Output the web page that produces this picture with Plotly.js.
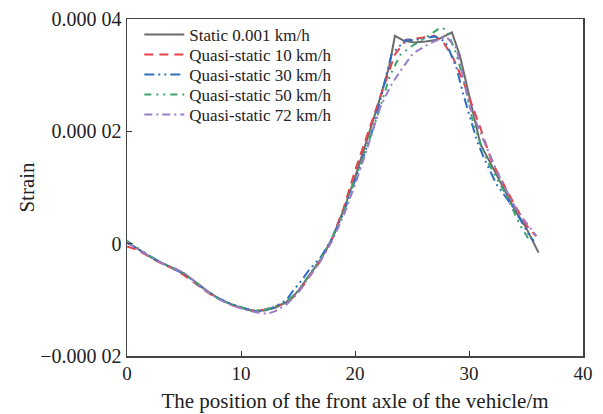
<!DOCTYPE html>
<html>
<head>
<meta charset="utf-8">
<script src="https://cdn.plot.ly/plotly-3.0.1.min.js"></script>
<style>html,body{margin:0;padding:0;background:#fff}#chart{width:603px;height:414px}</style>
</head>
<body>
<div id="chart"></div>
<script>
// Data (strain values in units of 1e-6)
const seriesNames = ["Static 0.001 km/h","Quasi-static 10 km/h","Quasi-static 30 km/h","Quasi-static 50 km/h","Quasi-static 72 km/h"];

const staticX = [0,1,2,3,4,5,6,7,8,9,10,11,12,13,14,15,16,17,18,19,20,21,22,23,23.5,24.3,25.2,26.2,27.2,28.5,29.2,30,31,32,33,34,35,36.1];
const staticY = [0.3,-1.0,-2.3,-3.4,-4.3,-5.3,-6.8,-8.4,-9.7,-10.7,-11.4,-12.0,-11.9,-11.4,-10.4,-8.5,-5.6,-2.8,0.9,6.0,11.8,18.0,24.6,31.5,37.0,36.1,35.8,36.0,36.3,37.6,33.5,26.5,17.7,13.9,10.0,6.1,2.9,-1.6];

const q10X = [0,1,2,3,4,5,6,7,8,9,10,11,12,13,14,15,16,17,18,19,20,20.9,22,23,23.5,24.5,25.7,27,27.8,28.6,29.5,31,32,33,34,35,35.9];
const q10Y = [-0.5,-1.2,-2.4,-3.5,-4.4,-5.6,-7.1,-8.6,-9.8,-10.8,-11.5,-11.9,-11.8,-11.2,-10.5,-8.8,-6.0,-3.0,1.0,6.3,13.0,18.3,24.8,30.5,33.7,36.3,36.7,37.0,35.7,33.1,28.9,20.6,14.6,10.8,6.9,3.4,1.3];

const q30X = [0,1,2,3,4,5,6,7,8,9,10,11,12,13,14,14.6,15.3,16,17,18,19,20,20.4,21.6,23.2,24.4,25.4,27,27.9,28.3,28.9,29.5,30.2,30.7,31.3,32.4,33.9,35.4,35.7];
const q30Y = [0.2,-1.0,-2.3,-3.4,-4.4,-5.4,-6.9,-8.4,-9.7,-10.6,-11.3,-11.9,-12.0,-11.2,-10.0,-8.3,-6.6,-4.6,-2.4,1.0,5.5,11.0,13.5,20.6,33.7,36.2,36.3,36.9,36.0,34.3,31.3,26.6,21.8,18.3,15.3,10.6,6.4,1.1,0.5];

const q50X = [0,1,2,3,4,5,6,7,8,9,10,11,12,13,14,15,16,17,18,19,20,21,22,23.1,24,25,26.6,27.5,28,28.8,29.5,30.4,31.6,33.3,34.5,35.4];
const q50Y = [0.5,-0.9,-2.2,-3.3,-4.3,-5.3,-6.9,-8.4,-9.8,-10.7,-11.3,-11.9,-11.8,-11.3,-10.3,-8.4,-5.5,-2.7,1.0,5.8,11.5,17.0,23.0,30.1,33.7,35.2,37.2,38.5,38.1,34.3,29.5,21.2,14.7,8.5,3.2,0.3];

const q72X = [0,1,2,3,4,5,6,7,8,9,10,11,12.3,13,14,15,16,17,18,19,20,21,22.2,23.1,24,25.1,26.6,28,28.9,30.1,31.3,32.7,34.2,35.9];
const q72Y = [0.3,-1.0,-2.3,-3.4,-4.2,-5.2,-6.9,-8.5,-9.8,-10.8,-11.5,-12.1,-12.5,-12.0,-10.8,-8.8,-5.8,-3.0,0.5,5.0,10.5,16.5,24.2,28.0,30.8,33.9,35.7,36.9,34.8,24.2,18.3,11.8,5.9,1.4];

const yTickVals = [-2e-5, 0, 2e-5, 4e-5];
const yTickText = ["\u22120.000 02", "0", "0.000 02", "0.000 04"];
const xTickVals = [0, 10, 20, 30, 40];

const scale = v => v.map(d => d * 1e-6);

const styles = [
  {color:"#6b6b6b", dash:"solid", width:2},
  {color:"#e8434a", dash:"9px,6px", width:2},
  {color:"#2f6fc2", dash:"10px,4px,2px,4px,2px,4px", width:2},
  {color:"#3da46e", dash:"7px,5px,2px,5px,2px,5px", width:2},
  {color:"#9a7cc8", dash:"8px,4px,2px,4px", width:2}
];
const xs = [staticX,q10X,q30X,q50X,q72X];
const ys = [staticY,q10Y,q30Y,q50Y,q72Y];

const traces = seriesNames.map((n,i)=>({
  x: xs[i], y: scale(ys[i]), name: n, type:"scatter", mode:"lines",
  line:{color:styles[i].color, dash:styles[i].dash, width:styles[i].width}
}));

const fam = "Liberation Serif, Times New Roman, serif";
const txt = "#222";

const layout = {
  width:603, height:414,
  margin:{l:127, r:20, t:19, b:58},
  paper_bgcolor:"#fff", plot_bgcolor:"#fff",
  font:{family:fam, size:20, color:txt},
  showlegend:true,
  legend:{x:0.027, y:1.006, xanchor:"left", yanchor:"top", bgcolor:"rgba(0,0,0,0)",
          font:{family:fam, size:17, color:txt}, tracegroupgap:0, itemwidth:40},
  xaxis:{range:[0,40], tickvals:xTickVals, ticks:"inside", ticklen:5, tickcolor:"#333",
         showline:true, mirror:true, linecolor:"#444", linewidth:1.5, showgrid:false, zeroline:false,
         title:{text:"The position of the front axle of the vehicle/m", font:{family:fam,size:21,color:txt}, standoff:10},
         tickfont:{family:fam,size:19,color:txt}},
  yaxis:{range:[-2e-5,4e-5], tickvals:yTickVals, ticktext:yTickText, ticks:"inside", ticklen:5, tickcolor:"#333",
         showline:true, mirror:true, linecolor:"#444", linewidth:1.5, showgrid:false, zeroline:false,
         title:{text:"Strain", font:{family:fam,size:21,color:txt}, standoff:0},
         tickfont:{family:fam,size:20,color:txt}}
};

Plotly.newPlot("chart", traces, layout, {displayModeBar:false, staticPlot:true}).then(gd => {
  // tighten legend row spacing to match the reference (20px per row)
  const items = gd.querySelectorAll(".legend .traces");
  let y0 = null;
  items.forEach((el, i) => {
    const m = /translate\(([-\d.]+),\s*([-\d.]+)\)/.exec(el.getAttribute("transform") || "");
    if (!m) return;
    if (y0 === null) y0 = parseFloat(m[2]);
    el.setAttribute("transform", "translate(" + m[1] + "," + (y0 + 20 * i) + ")");
  });
});
</script>
</body>
</html>
